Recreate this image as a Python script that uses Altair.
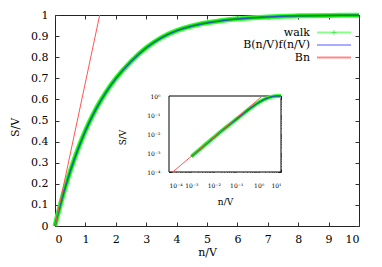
import altair as alt
import pandas as pd

# ---------------- data ----------------
walk_n = [0, 0.001, 0.002, 0.005, 0.01, 0.02, 0.05, 0.1, 0.2, 0.3, 0.4, 0.5, 0.6, 0.75, 0.9,
          1.0, 1.25, 1.5, 1.75, 2.0, 2.5, 3.0, 3.5, 4.0, 4.5, 5.0, 5.5, 6.0, 6.5, 7.0, 7.5,
          8.0, 9.0, 10.0]
walk_s = [0, 0.00066, 0.0013, 0.0033, 0.0065, 0.013, 0.031, 0.059, 0.113, 0.165, 0.213,
          0.259, 0.302, 0.362, 0.417, 0.451, 0.528, 0.593, 0.650, 0.699, 0.780, 0.845, 0.893,
          0.926, 0.948, 0.963, 0.974, 0.982, 0.987, 0.991, 0.994, 0.996, 0.998, 0.999]
fit_s = [0, 0.00066, 0.0013, 0.0033, 0.0065, 0.013, 0.031, 0.059, 0.112, 0.164, 0.212,
         0.258, 0.300, 0.360, 0.415, 0.449, 0.526, 0.591, 0.648, 0.697, 0.778, 0.843, 0.891,
         0.925, 0.947, 0.962, 0.973, 0.981, 0.987, 0.991, 0.994, 0.996, 0.998, 0.999]
bn_n = [0, 0.000147, 1.47]
bn_s = [0, 0.0001, 1.0]
legend_labels = ["walk", "B(n/V)f(n/V)", "Bn"]
main_x_ticks = [0, 1, 2, 3, 4, 5, 6, 7, 8, 9, 10]
main_y_ticks = [0, 0.1, 0.2, 0.3, 0.4, 0.5, 0.6, 0.7, 0.8, 0.9, 1.0]
inset_x_ticks = [1e-4, 1e-3, 1e-2, 1e-1, 1, 10]
inset_y_ticks = [1e-4, 1e-3, 1e-2, 1e-1, 1]
inset_x_minor = [m * 10.0 ** k for k in range(-4, 1) for m in range(2, 10)]
inset_y_minor = [m * 10.0 ** k for k in range(-4, 0) for m in range(2, 10)]

# ---------------- layout / style ----------------
W, H = 304, 211
FONT = "DejaVu Serif"
IX = [114, 226]
IY = [157, 81]

walk = pd.DataFrame({"n": walk_n, "s": walk_s})
fit = pd.DataFrame({"n": walk_n, "s": fit_s})
bn = pd.DataFrame({"n": bn_n, "s": bn_s})
walk_i = walk[walk.n > 0]
fit_i = fit[fit.n > 0]
bn_i = bn[bn.n > 0]

mx = alt.Scale(domain=[0, 10], nice=False, zero=False)
my = alt.Scale(domain=[0, 1], nice=False, zero=False)
ix = alt.Scale(type="log", domain=[1e-4, 10], range=IX, nice=False)
iy = alt.Scale(type="log", domain=[1e-4, 1], range=IY, nice=False)

sup_expr = ("datum.value < 0.0005 ? '10⁻⁴' : datum.value < 0.005 ? '10⁻³' : "
            "datum.value < 0.05 ? '10⁻²' : datum.value < 0.5 ? '10⁻¹' : "
            "datum.value < 5 ? '10⁰' : '10¹'")


def line(df, xs, ys, xaxis=None, yaxis=None, **kw):
    return alt.Chart(df).mark_line(**kw).encode(
        x=alt.X("n:Q", scale=xs, axis=xaxis),
        y=alt.Y("s:Q", scale=ys, axis=yaxis),
    )


# main axes (ticks pointing inward)
ax_b = alt.Axis(orient="bottom", values=main_x_ticks, domain=False, tickSize=4, offset=-4,
                labelPadding=7, labelFontSize=11, labelFont=FONT, title="n/V",
                titleFont=FONT, titleFontSize=11, titlePadding=2)
ax_l = alt.Axis(orient="left", values=main_y_ticks, domain=False, tickSize=4, offset=-4,
                labelPadding=7, labelFontSize=11, labelFont=FONT, format="~g", title="S/V",
                titleFont=FONT, titleFontSize=11, titlePadding=10, titleY=112)
ax_t = alt.Axis(orient="top", values=main_x_ticks, domain=False, tickSize=4, offset=-4,
                labels=False, title=None)
ax_r = alt.Axis(orient="right", values=main_y_ticks, domain=False, tickSize=4, offset=-4,
                labels=False, title=None)

main_walk_outer = line(walk, mx, my, ax_b, ax_l, color="#33ff33", strokeWidth=5,
                       interpolate="monotone")
main_walk_inner = line(walk, mx, my, color="#00c000", strokeWidth=2.5, interpolate="monotone")
main_fit = line(fit, mx, my, color="#3344dd", strokeWidth=1, interpolate="monotone")
main_bn = line(bn, mx, my, color="#ff5555", strokeWidth=1)
main_mirror = line(walk, mx, my, ax_t, ax_r, strokeOpacity=0)

# inset
frame = alt.Chart(pd.DataFrame({"a": [0]})).mark_rect(
    fill="white", stroke="black", strokeWidth=1).encode(
    x=alt.X(datum=1e-4, scale=ix, axis=None), x2=alt.X2(datum=10),
    y=alt.Y(datum=1e-4, scale=iy, axis=None), y2=alt.Y2(datum=1),
)
iax_b = alt.Axis(orient="bottom", values=inset_x_ticks, domain=False, tickSize=3, offset=-57,
                 labelPadding=10, labelFontSize=6, labelFont=FONT, labelExpr=sup_expr,
                 title="n/V", titleFont=FONT, titleFontSize=9, titlePadding=9)
iax_l = alt.Axis(orient="left", values=inset_y_ticks, domain=False, tickSize=3, offset=-117,
                 labelPadding=9, labelFontSize=6, labelFont=FONT, labelExpr=sup_expr,
                 title="S/V", titleFont=FONT, titleFontSize=9, titlePadding=19, titleY=122)
iax_t = alt.Axis(orient="top", values=inset_x_ticks, domain=False, tickSize=3, offset=-84,
                 labels=False, title=None)
iax_r = alt.Axis(orient="right", values=inset_y_ticks, domain=False, tickSize=3, offset=-81,
                 labels=False, title=None)
imx_b = alt.Axis(orient="bottom", values=inset_x_minor, domain=False, tickSize=2, offset=-56,
                 labels=False, title=None)
imy_l = alt.Axis(orient="left", values=inset_y_minor, domain=False, tickSize=2, offset=-116,
                 labels=False, title=None)
imx_t = alt.Axis(orient="top", values=inset_x_minor, domain=False, tickSize=2, offset=-83,
                 labels=False, title=None)
imy_r = alt.Axis(orient="right", values=inset_y_minor, domain=False, tickSize=2, offset=-80,
                 labels=False, title=None)

in_walk_outer = line(walk_i, ix, iy, iax_b, iax_l, color="#33ff33", strokeWidth=4,
                     interpolate="monotone")
in_walk_inner = line(walk_i, ix, iy, color="#00c000", strokeWidth=2, interpolate="monotone")
in_fit = line(fit_i, ix, iy, color="#3344dd", strokeWidth=1, interpolate="monotone")
in_bn = line(bn_i, ix, iy, color="#ff5555", strokeWidth=1)
in_mirror = line(walk_i, ix, iy, iax_t, iax_r, strokeOpacity=0)
in_minor1 = line(walk_i, ix, iy, imx_b, imy_l, strokeOpacity=0)
in_minor2 = line(walk_i, ix, iy, imx_t, imy_r, strokeOpacity=0)

# legend
leg = pd.DataFrame({"label": legend_labels, "k": [0, 1, 2]})
leg_y = alt.Scale(domain=[0, 2], range=[17.5, 42.5])
leg_text = alt.Chart(leg).mark_text(align="right", baseline="middle", font=FONT,
                                    fontSize=11, color="black").encode(
    x=alt.value(255), y=alt.Y("k:Q", scale=leg_y, axis=None), text="label:N")
leg_rule = alt.Chart(leg).mark_rule(strokeWidth=2).encode(
    x=alt.value(262), x2=alt.value(296), y=alt.Y("k:Q", scale=leg_y, axis=None),
    color=alt.Color("label:N", scale=alt.Scale(domain=legend_labels,
                                               range=["#88ff88", "#aaaaff", "#ff8888"]),
                    legend=None))
leg_plus = alt.Chart(leg[leg.k == 0]).mark_point(
    shape="M-1,0L1,0M0,-1L0,1", size=25, filled=False, color="#44dd44", strokeWidth=1).encode(
    x=alt.value(279), y=alt.Y("k:Q", scale=leg_y, axis=None))

chart = alt.layer(
    main_walk_outer, main_walk_inner, main_fit, main_bn, main_mirror,
    frame, in_walk_outer, in_walk_inner, in_fit, in_bn, in_mirror, in_minor1, in_minor2,
    leg_rule, leg_plus, leg_text,
).resolve_scale(x="independent", y="independent", color="independent").resolve_axis(
    x="independent", y="independent"
).properties(
    width=W, height=H, autosize=alt.AutoSizeParams(type="none"),
    padding={"left": 47, "top": 7, "right": 15, "bottom": 33},
).configure_view(stroke="#222", strokeWidth=1).configure_axis(
    grid=False, labelColor="black", titleColor="black",
    tickColor="#333", domainColor="#333", titleFontWeight="normal",
)

chart.save("out.html", embed_options={"renderer": "svg", "actions": False})
